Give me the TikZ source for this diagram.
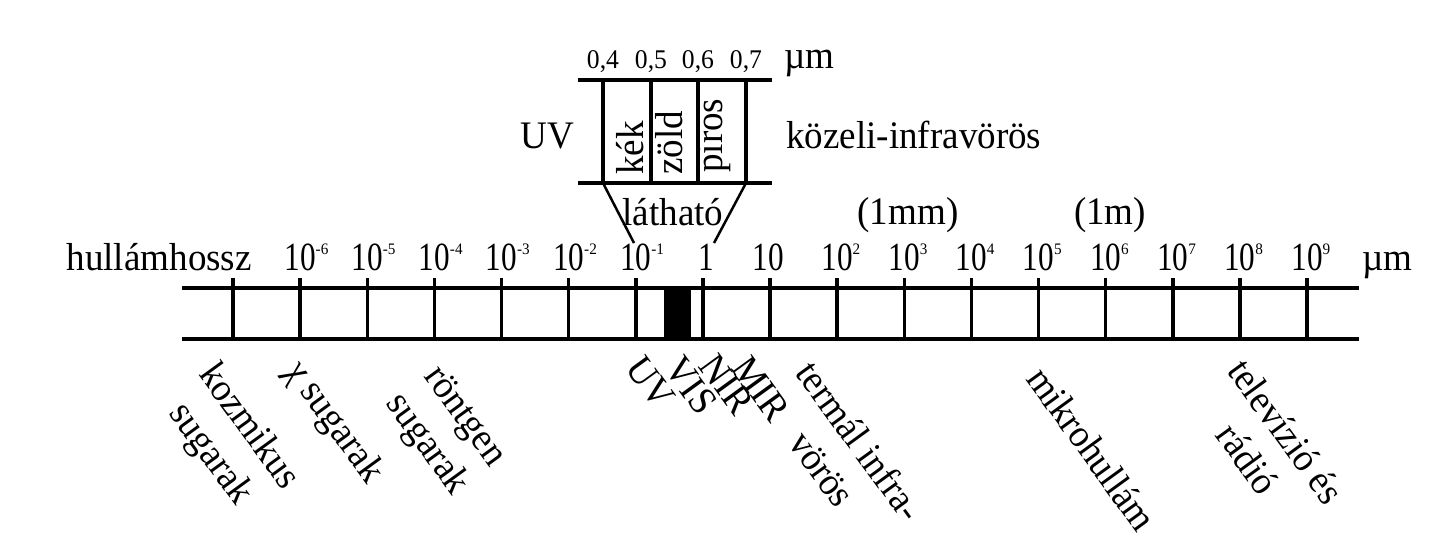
\documentclass[tikz,border=0pt]{standalone}
\usepackage{fontspec}
\setmainfont[FakeStretch=0.95]{Liberation Serif}
\newfontfamily\tickf[FakeStretch=0.78]{Liberation Serif}
\newcommand\mainsz{\rmfamily\fontsize{39}{47}\selectfont}
\newcommand\ticksz{\tickf\fontsize{40}{48}\selectfont}
\newcommand\expsz{\rmfamily\fontsize{16}{19}\selectfont}
\newcommand\topsz{\rmfamily\fontsize{27}{32}\selectfont}
\newcommand\ex[1]{\rlap{\raisebox{16pt}{\expsz #1}}}
\tikzset{
  bar/.style={line width=3.5pt},
  thinline/.style={line width=2.5pt},
  lbl/.style={inner sep=0pt, font=\mainsz},
  ticklbl/.style={inner sep=0pt, anchor=base, font=\ticksz},
  toplbl/.style={inner sep=0pt, anchor=base, font=\topsz},
  vert/.style={inner sep=0pt, rotate=90, anchor=mid west, font=\mainsz},
  rot/.style={inner sep=0pt, rotate=-54, anchor=north west, align=center, font=\mainsz}
}
\begin{document}
\begin{tikzpicture}[x=1pt,y=-1pt]
\fill[white] (0,0) rectangle (1438,552);
\useasboundingbox (0,0) rectangle (1438,552);
% main bar
\coordinate (bl) at (182,288); \coordinate (br) at (1359,288);
\coordinate (bl2) at (182,339); \coordinate (br2) at (1359,339);
\draw[bar] (bl) -- (br);
\draw[bar] (bl2) -- (br2);
\foreach \i in {0,...,16}{
  \draw[bar] ({233+67.125*\i},278) -- ({233+67.125*\i},339);
}
\fill (664,288) rectangle (691,339);
% tick labels
\node[lbl, anchor=base east] (hh) at (252,270) {hullámhossz};
\foreach \i/\e in {1/-6,2/-5,3/-4,4/-3,5/-2,6/-1,9/2,10/3,11/4,12/5,13/6,14/7,15/8,16/9}{
  \node[ticklbl] (t\i) at ({233+67.125*\i},270) {10\ex{\e}};
}
\node[ticklbl] (t7) at (706,270) {1};
\node[ticklbl] (t8) at (768,270) {10};
\node[lbl, anchor=base west] (um) at (1362,270) {µm};
\node[lbl, anchor=base] (mm) at (908,224) {(1mm)};
\node[lbl, anchor=base] (m) at (1110,224) {(1m)};
% inset
\draw[bar] (578,80) -- (772,80);
\draw[bar] (578,183) -- (772,183);
\foreach \x in {603,651,698,746}{
  \draw[bar] (\x,80) -- (\x,183);
}
\coordinate (ta) at (603,183); \coordinate (tb) at (746,183);
\coordinate (ba) at (634,243); \coordinate (bb) at (714,243);
\draw[thinline] (ta) -- (ba);
\draw[thinline] (tb) -- (bb);
\node[toplbl] (n4) at (603,68) {0,4};
\node[toplbl] (n5) at (651,68) {0,5};
\node[toplbl] (n6) at (698,68) {0,6};
\node[toplbl] (n7) at (746,68) {0,7};
\node[lbl, anchor=base west] (um2) at (784,68) {µm};
\node[lbl, anchor=base east] (uv) at (574,148) {UV};
\node[lbl, anchor=base west] (nir) at (786,148) {közeli-infravörös};
\node[lbl, anchor=base] (lat) at (673,225) {látható};
\node[vert] (kek) at (641,175) {kék};
\node[vert] (zold) at (680,175) {zöld};
\node[vert] (piros) at (720,173) {piros};
% bottom labels
\node[rot] (koz) at (220,358) {kozmikus\\sugarak};
\node[rot] (gam) at (306,355) {χ sugarak};
\node[rot] (ront) at (443,361) {röntgen\\sugarak};
\node[rot] (buv) at (645,353) {UV};
\node[rot] (bvis) at (684,353) {VIS};
\node[rot] (bnir) at (718,351) {NIR};
\node[rot] (bmir) at (751,353) {MIR};
\node[rot] (term) at (817,357) {termál infra-\\vörös};
\node[rot] (mik) at (1047,363) {mikrohullám};
\node[rot] (tv) at (1248,355) {televízió és\\rádió};
\end{tikzpicture}
\end{document}
